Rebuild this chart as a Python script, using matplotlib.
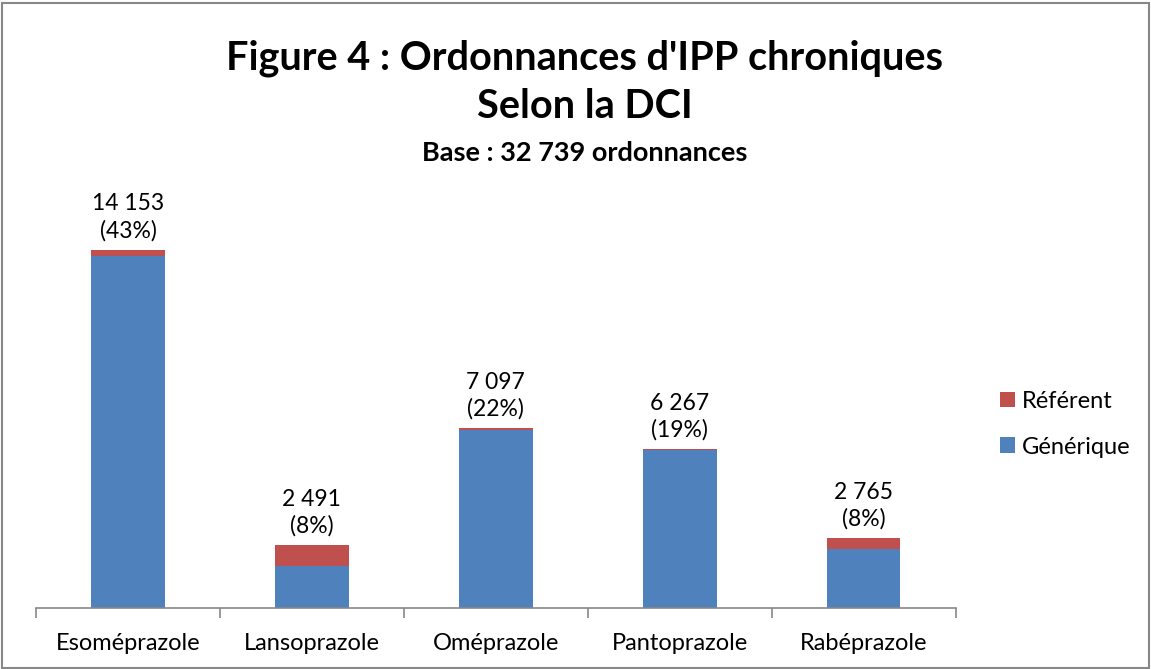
import matplotlib.pyplot as plt
from matplotlib.patches import Rectangle

# Données
molecules = ['Esoméprazole', 'Lansoprazole', 'Oméprazole', 'Pantoprazole', 'Rabéprazole']
totaux = [14153, 2491, 7097, 6267, 2765]
referent = [240, 836, 60, 40, 440]
generique = [t - r for t, r in zip(totaux, referent)]
etiquettes = ['14 153\n(43%)', '2 491\n(8%)', '7 097\n(22%)', '6 267\n(19%)', '2 765\n(8%)']

bleu = '#4F81BD'
rouge = '#C0504D'

plt.rcParams['font.family'] = ['Lato', 'DejaVu Sans']

fig = plt.figure(figsize=(11.51, 6.69), dpi=100)
ax = fig.add_axes([0.0313, 0.091, 0.799, 0.62])

x = range(len(molecules))
ax.bar(x, generique, width=0.4, color=bleu, label='Générique')
ax.bar(x, referent, width=0.4, bottom=generique, color=rouge, label='Référent')

for i, t in enumerate(totaux):
    ax.text(i, t + 330, etiquettes[i], ha='center', va='bottom', fontsize=16.5, linespacing=1.3)

ax.set_xlim(-0.5, len(molecules) - 0.5)
ax.set_ylim(0, 16370)
ax.set_yticks([])
for s in ['top', 'right', 'left']:
    ax.spines[s].set_visible(False)
ax.spines['bottom'].set_color('#888888')
ax.spines['bottom'].set_linewidth(1.2)
ax.set_xticks(list(x))
ax.set_xticklabels(molecules, fontsize=17)
ax.set_xticks([i + 0.5 for i in range(-1, len(molecules))], minor=True)
ax.tick_params(axis='x', which='major', length=0, pad=18)
ax.tick_params(axis='x', which='minor', length=7, color='#888888', width=1.2)

# Titre
fig.text(0.508, 0.913, "Figure 4 : Ordonnances d'IPP chroniques", ha='center', va='center',
         fontsize=28.5, fontweight='bold')
fig.text(0.508, 0.841, 'Selon la DCI', ha='center', va='center', fontsize=28.5, fontweight='bold')
fig.text(0.508, 0.772, 'Base : 32 739 ordonnances', ha='center', va='center', fontsize=19.5, fontweight='bold')

# Légende
handles, labels = ax.get_legend_handles_labels()
fig.legend(handles[::-1], labels[::-1], loc='center left', bbox_to_anchor=(0.85, 0.366),
           frameon=False, fontsize=17, handlelength=0.65, handleheight=0.65, handletextpad=0.3,
           labelspacing=1.05)

# Cadre
fig.add_artist(Rectangle((0.002, 0.002), 0.996, 0.994, transform=fig.transFigure,
                         fill=False, edgecolor='#888888', linewidth=1.5))

fig.savefig('out.png')
